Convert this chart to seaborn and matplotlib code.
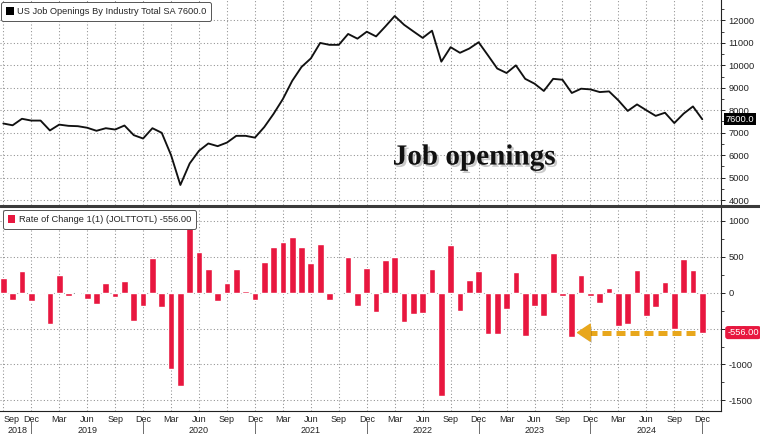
import matplotlib as mpl
import matplotlib.pyplot as plt
import matplotlib.patheffects as pe
from matplotlib.lines import Line2D
from matplotlib.patches import Patch
from matplotlib.ticker import FixedLocator, MultipleLocator, AutoMinorLocator
from matplotlib.transforms import blended_transform_factory
import seaborn as sns
import pandas as pd
import numpy as np

# monthly, Sep 2018 .. Dec 2024
months = pd.date_range("2018-09-01", "2024-12-01", freq="MS")

# US job openings, total SA (thousands)
openings = [
    7410, 7330, 7620, 7540,                                                  # 2018
    7540, 7100, 7360, 7305, 7290, 7220, 7085, 7200, 7140, 7320, 6890, 6740,  # 2019
    7200, 6995, 6000, 4670, 5630, 6195, 6520, 6400, 6560, 6860, 6860, 6780,  # 2020
    7250, 7840, 8500, 9310, 9930, 10310, 11000, 10915, 10915, 11400, 11190, 11500,  # 2021
    11290, 11735, 12200, 11810, 11515, 11225, 11545, 10165, 10810, 10560, 10750, 11030,  # 2022
    10450, 9860, 9660, 10000, 9400, 9185, 8860, 9400, 9360, 8770, 8960, 8930,  # 2023
    8810, 8840, 8440, 7970, 8260, 8000, 7750, 7890, 7430, 7850, 8170, 7600,  # 2024
]

# 1-month change (JOLTTOTL)
change = [
    200, -100, 297, -109,
    8, -439, 250, -47, -8, -85, -156, 137, -57, 165, -401, -189,
    486, -198, -1062, -1298, 1000, 566, 335, -118, 137, 335, 19, -104,
    430, 642, 708, 779, 637, 415, 684, -104, 8, 500, -184, 340,
    -265, 453, 496, -411, -302, -278, 335, -1435, 670, -260, 179, 297,
    -580, -580, -231, 288, -599, -184, -326, 552, -42, -621, 248, -42,
    -140, 70, -462, -434, 313, -322, -196, 150, -500, 467, 313, -556,
]

df = pd.DataFrame({"idx": np.arange(len(months)), "month": months,
                   "openings": openings, "change": change})

BAR_RED = "#e8173f"
GOLD = "#e8a71c"
GRID = dict(color="#8f8f8f", linestyle=(0, (1, 2.2)), linewidth=0.75)

sns.set_style("white")
plt.rcParams["font.family"] = ["Liberation Sans", "DejaVu Sans"]
plt.rcParams["axes.unicode_minus"] = False

fig = plt.figure(figsize=(7.6, 4.34), dpi=100)
ax1 = fig.add_axes([0, 0.5276, 0.9493, 0.4724])
ax2 = fig.add_axes([0, 0.0537, 0.9493, 0.467])

quarters = df.index[df["month"].dt.month.isin([3, 6, 9, 12])].tolist()

# ---- top panel: level
sns.lineplot(data=df, x="idx", y="openings", color="#111111", linewidth=1.35, ax=ax1)
ax1.set_ylim(3777, 12913)
ax1.yaxis.set_major_locator(MultipleLocator(1000))
ax1.yaxis.set_minor_locator(AutoMinorLocator(2))

# ---- bottom panel: change
sns.barplot(data=df, x="idx", y="change", native_scale=True, color=BAR_RED,
            saturation=1, width=0.72, ax=ax2)
ax2.set_ylim(-1645, 1181)
ax2.yaxis.set_major_locator(MultipleLocator(500))
ax2.yaxis.set_minor_locator(AutoMinorLocator(2))

for ax in (ax1, ax2):
    ax.set_xlim(-0.354, 77.06)
    ax.set_xlabel("")
    ax.set_ylabel("")
    ax.xaxis.set_major_locator(FixedLocator(quarters))
    ax.xaxis.set_minor_locator(MultipleLocator(1))
    ax.grid(True, which="major", **GRID)
    ax.yaxis.tick_right()
    ax.tick_params(axis="y", which="major", length=3, width=0.7, color="#222",
                   labelsize=6.7, labelcolor="#222", pad=2)
    ax.tick_params(axis="y", which="minor", length=1.8, width=0.6, color="#222")
    for s in ("left", "top"):
        ax.spines[s].set_visible(False)
    ax.spines["right"].set_color("#222")
    ax.spines["right"].set_linewidth(0.8)

ax1.spines["bottom"].set_visible(False)
ax1.tick_params(axis="x", which="both", length=0, labelbottom=False)

ax2.spines["bottom"].set_color("#222")
ax2.spines["bottom"].set_linewidth(0.8)
ax2.tick_params(axis="x", which="major", length=2.5, width=0.6, color="#222",
                labelsize=6.5, labelcolor="#222", pad=0.8)
ax2.tick_params(axis="x", which="minor", length=1.5, width=0.5, color="#222")
ax2.set_xticklabels([df["month"][i].strftime("%b") for i in quarters])
ax2.get_xticklabels()[0].set_horizontalalignment("left")

# year row with separators at December
xt = ax2.get_xaxis_transform()
for yr, grp in df.groupby(df["month"].dt.year):
    jun = grp[grp["month"].dt.month == 6]
    xpos = jun["idx"].iloc[0] if len(jun) else grp["idx"].mean()
    ax2.text(xpos, -0.097, str(yr), transform=xt, ha="center", va="center",
             fontsize=6.5, color="#222", clip_on=False)
decs = df.loc[df["month"].dt.month == 12, "idx"]
ax2.vlines(decs, -0.05, -0.13, transform=xt, color="#555", linewidth=0.6, clip_on=False)

# divider between panels
fig.add_artist(Line2D([0, 1], [0.5242, 0.5242], transform=fig.transFigure,
                      color="#3a3a3a", linewidth=2.2))

# legends
leg_kw = dict(loc="upper left", borderaxespad=0, fontsize=6.65, frameon=True,
              fancybox=True, edgecolor="#555", framealpha=1, handlelength=0.8,
              handleheight=0.9, handletextpad=0.35, borderpad=0.55)
leg1 = ax1.legend(handles=[Patch(facecolor="black", edgecolor="none")],
                  labels=[f"US Job Openings By Industry Total SA {openings[-1]:.1f}"],
                  bbox_to_anchor=(0.0015, 0.99), **leg_kw)
leg2 = ax2.legend(handles=[Patch(facecolor=BAR_RED, edgecolor="none")],
                  labels=[f"Rate of Change 1(1) (JOLTTOTL) {change[-1]:.2f}"],
                  bbox_to_anchor=(0.004, 0.99), **leg_kw)
for lg in (leg1, leg2):
    lg.get_frame().set_linewidth(0.7)
    lg.set_zorder(6)

# last-value tags on the right axis
tr1 = blended_transform_factory(ax1.transAxes, ax1.transData)
ax1.text(1.006, openings[-1], f"{openings[-1]:.1f}", transform=tr1, ha="left", va="center",
         color="white", fontsize=6.7, clip_on=False, zorder=7,
         bbox=dict(boxstyle="square,pad=0.18", fc="black", ec="none"))
tr2 = blended_transform_factory(ax2.transAxes, ax2.transData)
ax2.text(1.008, change[-1], f"{change[-1]:.2f}", transform=tr2, ha="left", va="center",
         color="white", fontsize=6.7, clip_on=False, zorder=7,
         bbox=dict(boxstyle="round,pad=0.22,rounding_size=0.3", fc=BAR_RED, ec="none"))

# title text inside the top panel
ax1.text(0.657, 0.234, "Job openings", transform=ax1.transAxes, ha="center", va="center",
         fontsize=21, fontweight="bold", family="Liberation Serif", color="#111",
         path_effects=[pe.SimplePatchShadow(offset=(1.6, -1.6), shadow_rgbFace="#888", alpha=0.45),
                       pe.Normal()])

# dashed arrow back to the last month with a bigger drop
last = len(change) - 1
prev = max(i for i in range(last) if change[i] <= change[-1])
shadow = [pe.SimplePatchShadow(offset=(1.2, -1.5), alpha=0.25), pe.Normal()]
ax2.plot([prev + 1.7, last - 0.45], [change[-1], change[-1]], color=GOLD, linewidth=3.6,
         linestyle=(0, (1.8, 1.0)), solid_capstyle="butt", zorder=5, path_effects=shadow)
ax2.annotate("", xy=(prev + 0.5, change[-1]), xytext=(prev + 1.75, change[-1]),
             arrowprops=dict(arrowstyle="-|>,head_length=0.45,head_width=0.3", color=GOLD,
                             lw=1, mutation_scale=20, shrinkA=0, shrinkB=0,
                             path_effects=shadow),
             zorder=5)

fig.savefig("out.png", dpi=100, facecolor="white")
